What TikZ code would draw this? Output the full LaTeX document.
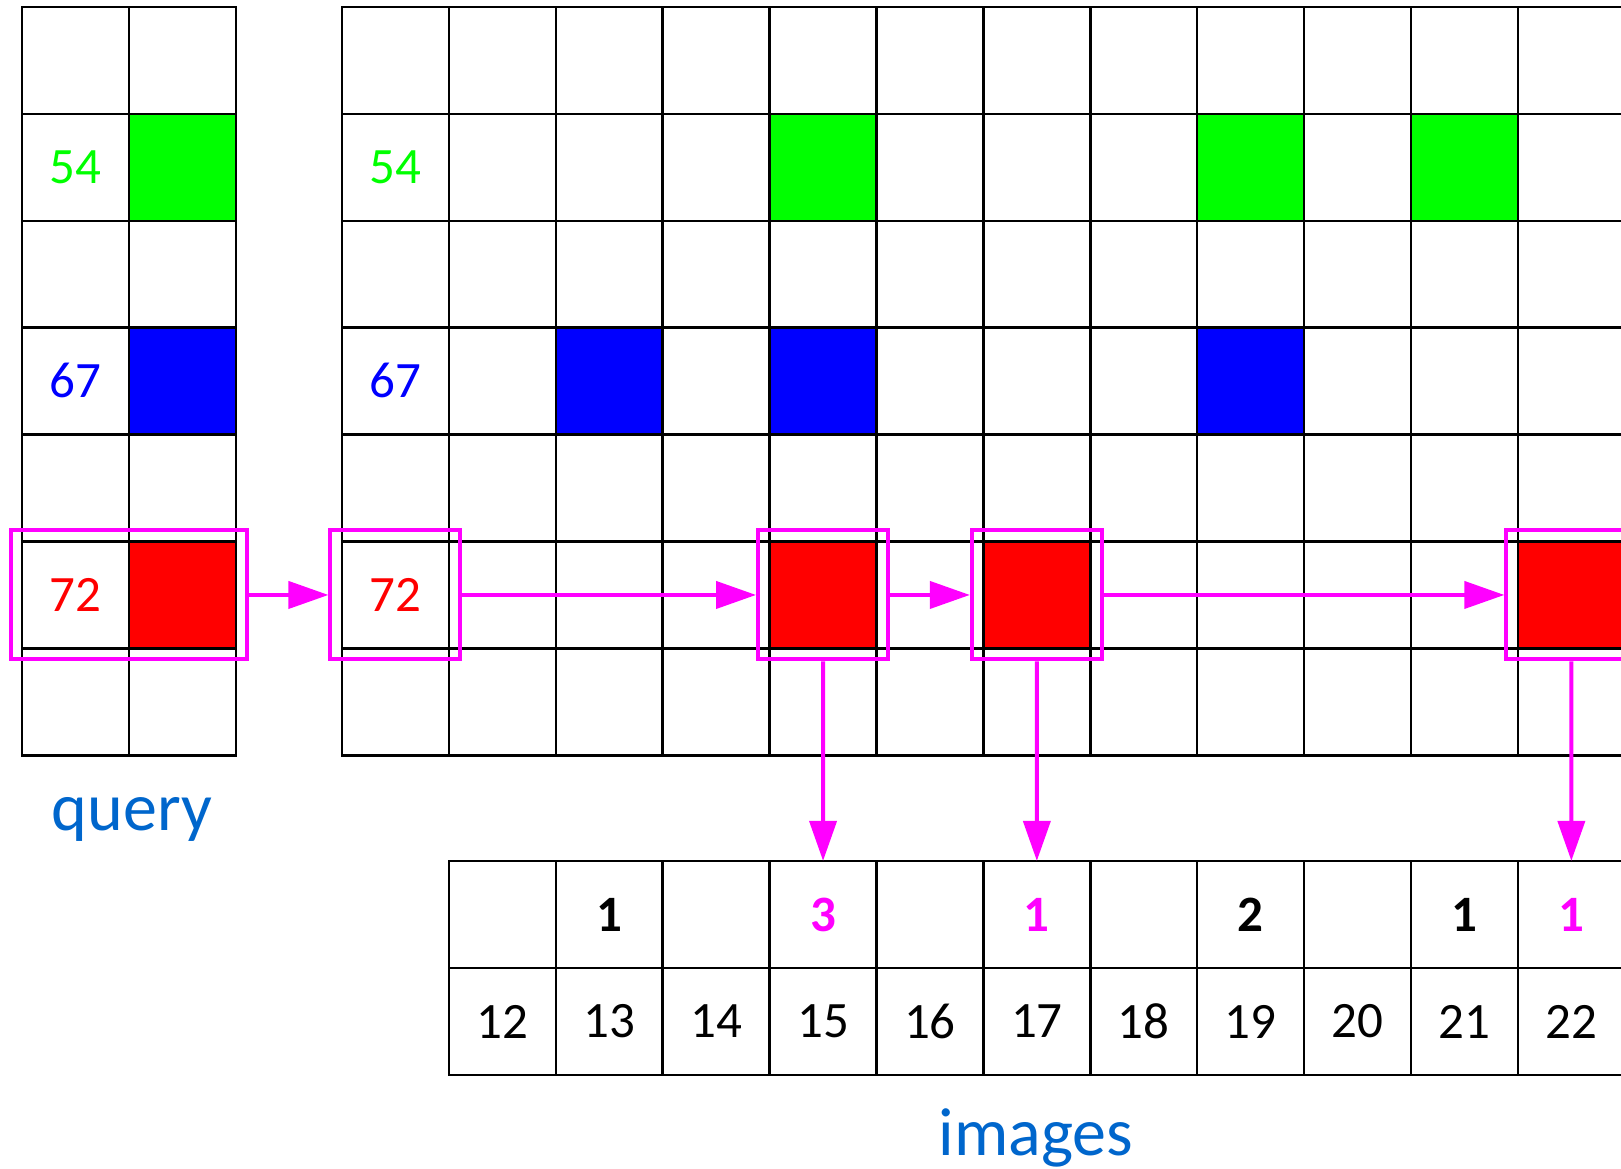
\documentclass[tikz,border=0pt]{standalone}
\usepackage{fontspec}
\setmainfont{Carlito}
\usetikzlibrary{arrows.meta}
\definecolor{mag}{RGB}{255,0,255}
\definecolor{gr}{RGB}{0,255,0}
\definecolor{bl}{RGB}{0,0,255}
\definecolor{rd}{RGB}{255,0,0}
\definecolor{lbl}{RGB}{0,102,204}
\begin{document}
\begin{tikzpicture}[x=1pt,y=-1pt,
  gridline/.style={line width=2.5pt, black, line cap=rect},
  hitbox/.style={draw=mag, line width=4pt, rectangle, minimum width=130pt, minimum height=129pt, inner sep=0pt},
  link/.style={draw=mag, line width=4pt, -{Triangle[length=40pt,width=27pt]}},
  num/.style={font=\fontsize{51}{51}\selectfont, inner sep=0pt},
  cnt/.style={font=\fontsize{51}{51}\selectfont\bfseries, inner sep=0pt, minimum size=106.9pt},
  caption/.style={font=\fontsize{68}{68}\selectfont, text=lbl, anchor=base, inner sep=0pt}
]
\def\cs{106.9}
\useasboundingbox (0,0) rectangle (1621,1168);
\clip (0,0) rectangle (1621,1168);
% fills query
\fill[gr] ({22+\cs},{7+\cs}) rectangle +(\cs,\cs);
\fill[bl] ({22+\cs},{7+3*\cs}) rectangle +(\cs,\cs);
\fill[rd] ({22+\cs},{7+5*\cs}) rectangle +(\cs,\cs);
% fills main
\foreach \i in {4,8,10} \fill[gr] ({342+\i*\cs},{7+\cs}) rectangle +(\cs,\cs);
\foreach \i in {2,4,8} \fill[bl] ({342+\i*\cs},{7+3*\cs}) rectangle +(\cs,\cs);
\foreach \i in {4,6,11} \fill[rd] ({342+\i*\cs},{7+5*\cs}) rectangle +(\cs,\cs);
% query grid
\foreach \i in {0,1,2} \draw[gridline] ({22+\i*\cs},7) -- ({22+\i*\cs},{7+7*\cs});
\foreach \j in {0,...,7} \draw[gridline] (22,{7+\j*\cs}) -- ({22+2*\cs},{7+\j*\cs});
% main grid
\foreach \i in {0,...,11} \draw[gridline] ({342+\i*\cs},7) -- ({342+\i*\cs},{7+7*\cs});
\foreach \j in {0,...,7} \draw[gridline] (342,{7+\j*\cs}) -- (1630,{7+\j*\cs});
% images grid
\foreach \i in {1,...,11} \draw[gridline] ({342+\i*\cs},861) -- ({342+\i*\cs},1075);
\foreach \y in {861,968,1075} \draw[gridline] ({342+\cs},\y) -- (1630,\y);
% labels
\node[num, text=gr] (q54) at (75.45,167.35) {54};
\node[num, text=bl] (q67) at (75.45,380.15) {67};
\node[num, text=rd] (q72) at (75.45,594.95) {72};
\node[num, text=gr] (m54) at (395.45,167.35) {54};
\node[num, text=bl] (m67) at (395.45,380.15) {67};
\node[num, text=rd] (m72) at (395.45,594.95) {72};
% image ids
\foreach \n [count=\k from 1] in {12,...,22}
  \node[num] (img\n) at ({342+(\k+0.5)*\cs},1021.5) {\n};
% counts
\foreach \n/\v/\c [count=\k from 1] in {12//black,13/1/black,14//black,15/3/mag,16//black,17/1/mag,18//black,19/2/black,20//black,21/1/black,22/1/mag}
  \node[cnt, text=\c] (t\n) at ({342+(\k+0.5)*\cs},914.5) {\v};
% boxes
\node[hitbox, minimum width=236pt] (qb) at (129,594.95) {};
\node[hitbox] (b0) at (395.45,594.95) {};
\node[hitbox] (b4) at (823.05,594.95) {};
\node[hitbox] (b6) at (1036.85,594.95) {};
\node[hitbox] (b11) at (1571.35,594.95) {};
% arrows
\draw[link] (qb.east) -- (b0.west);
\draw[link] (b0.east) -- (b4.west);
\draw[link] (b4.east) -- (b6.west);
\draw[link] (b6.east) -- (b11.west);
\draw[link] (b4.south) -- (t15.north);
\draw[link] (b6.south) -- (t17.north);
\draw[link] (b11.south) -- (t22.north);
% captions
\node[caption] (query) at (132,830) {query};
\node[caption] (images) at (1036,1155) {images};
\end{tikzpicture}
\end{document}
